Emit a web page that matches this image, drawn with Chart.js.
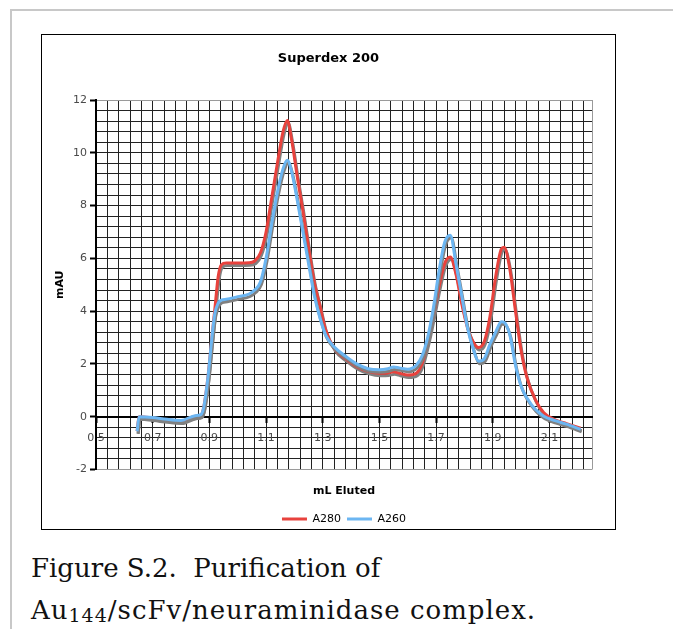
<!DOCTYPE html>
<html>
<head>
<meta charset="utf-8">
<script src="https://cdn.jsdelivr.net/npm/chart.js@4.4.1/dist/chart.umd.min.js"></script>
<style>
  html, body { margin: 0; padding: 0; background: #fff; }
  body { width: 673px; height: 629px; position: relative; overflow: hidden; }
  #page { position: absolute; left: 10px; top: 9px; width: 700px; height: 700px;
          border-left: 2px solid #c8c8c8; border-top: 2px solid #c8c8c8; }
  #chartBox { position: absolute; left: 41px; top: 34px; width: 573px; height: 494px;
              border: 1px solid #000; background: #fff; }
  #caption { position: absolute; left: 31px; top: 547px; font-family: 'DejaVu Serif', serif;
             font-size: 26px; line-height: 42px; color: #111; white-space: nowrap; }
  #caption .linea2 { letter-spacing: 1px; }
  #caption .sub { font-size: 19px; vertical-align: -3px; }
</style>
</head>
<body>
<div id="page"></div>
<div id="chartBox"><canvas id="elucionChart"></canvas></div>
<div id="caption">Figure S.2.&nbsp; Purification of<br><span class="linea2">Au<span class="sub">144</span>/scFv/neuraminidase complex.</span></div>

<script>
const mlEluted = [
  0.645, 0.652, 0.70, 0.75, 0.80, 0.85, 0.87, 0.88, 0.895, 0.907,
  0.919, 0.931, 0.942, 0.96, 1.00, 1.04, 1.06, 1.08, 1.10, 1.12,
  1.14, 1.16, 1.175, 1.19, 1.21, 1.23, 1.25, 1.27, 1.29, 1.31,
  1.34, 1.38, 1.42, 1.46, 1.50, 1.53, 1.55, 1.57, 1.60, 1.63,
  1.65, 1.67, 1.69, 1.71, 1.73, 1.75, 1.77, 1.79, 1.81, 1.83,
  1.85, 1.87, 1.89, 1.91, 1.93, 1.94, 1.96, 1.98, 2.00, 2.02,
  2.05, 2.08, 2.12, 2.16, 2.21
];
const a280 = [
  -0.55, 0.0, -0.05, -0.12, -0.16, 0.02, 0.06, 0.35, 1.5, 2.8,
  4.05, 5.3, 5.75, 5.82, 5.82, 5.83, 5.9, 6.2, 7.0, 8.3,
  9.6, 10.8, 11.22, 10.5, 9.1, 7.8, 6.4, 5.1, 4.2, 3.3,
  2.6, 2.2, 1.9, 1.72, 1.65, 1.66, 1.70, 1.65, 1.58, 1.65,
  2.0, 2.8, 3.8, 4.9, 5.8, 6.05, 5.4, 4.3, 3.4, 2.85,
  2.62, 2.85, 3.8, 5.3, 6.35, 6.42, 5.6, 4.0, 2.5, 1.5,
  0.65, 0.15, -0.12, -0.26, -0.43
];
const a260 = [
  -0.55, 0.0, -0.03, -0.1, -0.14, 0.04, 0.08, 0.35, 1.5, 2.8,
  3.9, 4.3, 4.42, 4.45, 4.55, 4.65, 4.8, 5.1, 6.0, 7.3,
  8.5, 9.4, 9.72, 9.3, 8.2, 7.0, 5.8, 4.6, 3.75, 3.1,
  2.65, 2.3, 2.0, 1.82, 1.78, 1.82, 1.88, 1.85, 1.80, 1.95,
  2.3, 3.0, 4.1, 5.5, 6.6, 6.88, 5.8, 4.6, 3.4, 2.6,
  2.1, 2.2, 2.75, 3.2, 3.6, 3.58, 3.1, 1.95, 1.15, 0.72,
  0.28, 0.02, -0.15, -0.28, -0.48
];

// Ejes: rango, cuadrícula menor y etiquetas mayores
const xMin = 0.5, xMax = 2.25, xMinor = 0.04, xMajor = 0.2;
const yMin = -2, yMax = 12, yMinor = 0.4, yMajor = 2;

const FONT = "'DejaVu Sans', Verdana, sans-serif";

function buildTicks(min, max, step) {
  const ticks = [];
  const n = Math.floor((max - min) / step + 1e-6);
  for (let i = 0; i <= n; i++) {
    ticks.push({ value: +(min + i * step).toFixed(4) });
  }
  if (ticks[ticks.length - 1].value < max - 1e-6) ticks.push({ value: max });
  return ticks;
}

function isMajor(value, min, step) {
  const k = (value - min) / step;
  return Math.abs(k - Math.round(k)) < 1e-6;
}

function toPoints(xs, ys) {
  return xs.map((x, i) => ({ x: x, y: ys[i] }));
}

// sombra gris bajo cada serie (como en el gráfico original)
const sombraPlugin = {
  id: 'sombra',
  beforeDatasetDraw(chart) {
    const c = chart.ctx;
    c.save();
    c.shadowColor = 'rgba(128,128,128,1)';
    c.shadowOffsetX = 1;
    c.shadowOffsetY = 2.5;
    c.shadowBlur = 0;
  },
  afterDatasetDraw(chart) {
    chart.ctx.restore();
  }
};

const ctx = document.getElementById('elucionChart');
new Chart(ctx.getContext('2d'), {
  type: 'line',
  data: {
    datasets: [
      {
        label: 'A280',
        data: toPoints(mlEluted, a280),
        borderColor: '#e8423d',
        backgroundColor: '#e8423d',
        borderWidth: 3,
        pointRadius: 0,
        cubicInterpolationMode: 'monotone',
        fill: false,
        order: 1
      },
      {
        label: 'A260',
        data: toPoints(mlEluted, a260),
        borderColor: '#6cb6f2',
        backgroundColor: '#6cb6f2',
        borderWidth: 3,
        pointRadius: 0,
        cubicInterpolationMode: 'monotone',
        fill: false,
        order: 0
      }
    ]
  },
  options: {
    responsive: true,
    maintainAspectRatio: false,
    animation: false,
    layout: { padding: { left: 11.5, right: 11.5, top: 10, bottom: -5.5 } },
    scales: {
      x: {
        type: 'linear',
        min: xMin,
        max: xMax,
        position: { y: 0 },
        afterBuildTicks: s => { s.ticks = buildTicks(xMin, xMax, xMinor); },
        ticks: {
          autoSkip: false,
          maxRotation: 0,
          padding: 10,
          color: '#4a4a4a',
          font: { family: FONT, size: 11 },
          callback: value => isMajor(value, xMin, xMajor) ? value.toFixed(1) : ''
        },
        grid: {
          color: c => (c.tick && c.tick.value >= xMax - 1e-6) ? '#9a9a9a' : '#222',
          lineWidth: 1,
          tickLength: 5,
          tickWidth: 2,
          tickColor: c => (c.tick && isMajor(c.tick.value, xMin, xMajor)) ? '#000' : 'rgba(0,0,0,0)'
        },
        border: { display: true, color: '#000', width: 2 }
      },
      y: {
        type: 'linear',
        min: yMin,
        max: yMax,
        afterBuildTicks: s => { s.ticks = buildTicks(yMin, yMax, yMinor); },
        afterFit: s => { s.width = 42.5; },
        ticks: {
          autoSkip: false,
          padding: 3,
          color: '#4a4a4a',
          font: { family: FONT, size: 11 },
          callback: value => isMajor(value, yMin, yMajor) ? String(Math.round(value)) : ''
        },
        grid: {
          color: c => (c.tick && (c.tick.value >= yMax - 1e-6 || c.tick.value <= yMin + 1e-6)) ? '#9a9a9a' : '#222',
          lineWidth: 1,
          tickLength: 6,
          tickWidth: 2,
          tickColor: c => (c.tick && isMajor(c.tick.value, yMin, yMajor)) ? '#000' : 'rgba(0,0,0,0)'
        },
        border: { display: true, color: '#000', width: 2 },
        title: {
          display: true,
          text: 'mAU',
          color: '#000',
          font: { family: FONT, size: 11, weight: 'bold' },
          padding: { top: 0, bottom: 0 }
        }
      },
      // eje vacío a la derecha: solo reserva el margen del área de trazado
      margenDerecho: {
        type: 'linear',
        position: 'right',
        display: true,
        afterFit: s => { s.width = 11.5; },
        ticks: { display: false },
        grid: { display: false, drawTicks: false },
        border: { display: false }
      }
    },
    plugins: {
      title: {
        display: true,
        text: 'Superdex 200',
        color: '#000',
        font: { family: FONT, size: 13, weight: 'bold' },
        padding: { top: 6.2, bottom: 33.2 }
      },
      subtitle: {
        display: true,
        text: 'mL Eluted',
        position: 'bottom',
        fullSize: false,
        weight: 500,
        color: '#000',
        font: { family: FONT, size: 11, weight: 'bold' },
        padding: { top: 15.4, bottom: 9.4 }
      },
      legend: {
        display: true,
        position: 'bottom',
        fullSize: false,
        labels: {
          boxWidth: 25,
          boxHeight: 3,
          padding: 6,
          color: '#000',
          font: { family: FONT, size: 11 },
          sort: (a, b) => a.datasetIndex - b.datasetIndex,
          generateLabels: chart => Chart.defaults.plugins.legend.labels.generateLabels(chart)
            .map(l => Object.assign(l, { lineWidth: 0 }))
        }
      },
      tooltip: { enabled: false }
    }
  },
  plugins: [sombraPlugin]
});
</script>
</body>
</html>
